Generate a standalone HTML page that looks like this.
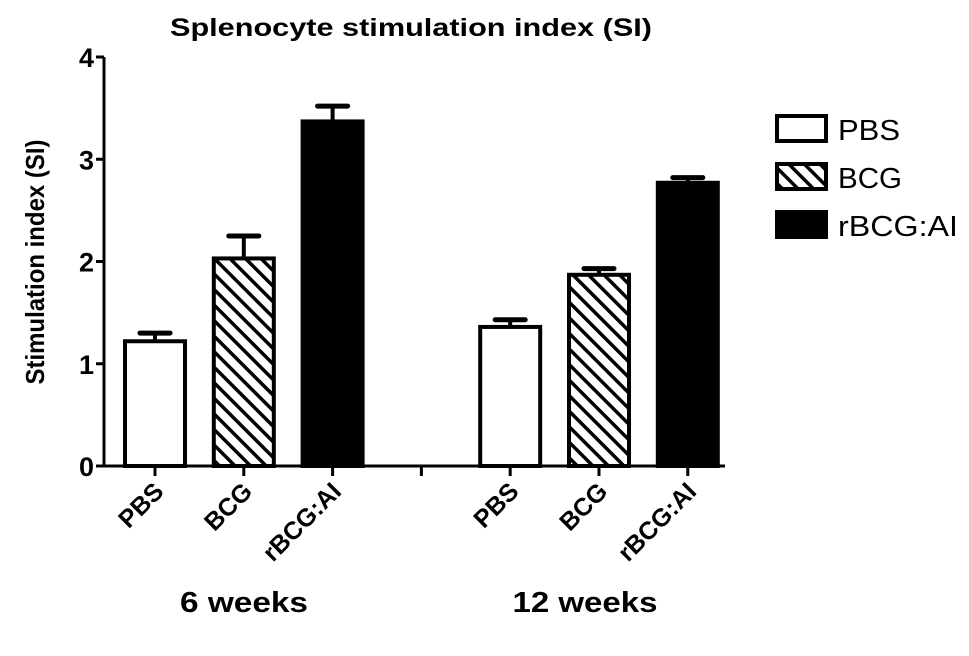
<!DOCTYPE html>
<html><head><meta charset="utf-8"><style>
body{margin:0;background:#fff}
svg text{font-family:"Liberation Sans",sans-serif;fill:#000}
</style></head><body>
<svg width="969" height="651" viewBox="0 0 969 651">
<defs><pattern id="hatch" patternUnits="userSpaceOnUse" width="11" height="11" patternTransform="rotate(-45)"><rect width="11" height="11" fill="#fff"/><rect x="0" y="0" width="3.5" height="11" fill="#000"/></pattern></defs>
<text x="411" y="36" text-anchor="middle" font-size="25" font-weight="bold" textLength="482" lengthAdjust="spacingAndGlyphs">Splenocyte stimulation index (SI)</text>
<text transform="translate(44,262) rotate(-90)" text-anchor="middle" font-size="26" font-weight="bold" textLength="245" lengthAdjust="spacingAndGlyphs">Stimulation index (SI)</text>
<g id="plot"></g>
<text x="244" y="612" text-anchor="middle" font-size="29" font-weight="bold" textLength="128" lengthAdjust="spacingAndGlyphs">6 weeks</text>
<text x="585" y="612" text-anchor="middle" font-size="29" font-weight="bold" textLength="145" lengthAdjust="spacingAndGlyphs">12 weeks</text>
<g>
<rect x="777" y="116" width="49" height="25" fill="#fff" stroke="#000" stroke-width="4"/>
<text x="838" y="140" font-size="29" textLength="62" lengthAdjust="spacingAndGlyphs">PBS</text>
<rect x="777" y="164" width="49" height="25" fill="url(#hatch)" stroke="#000" stroke-width="4"/>
<text x="838" y="188" font-size="29" textLength="64" lengthAdjust="spacingAndGlyphs">BCG</text>
<rect x="777" y="212" width="49" height="25" fill="#000" stroke="#000" stroke-width="4"/>
<text x="838" y="236" font-size="29" textLength="120" lengthAdjust="spacingAndGlyphs">rBCG:AI</text>
</g>
</svg>
<script>
const categories=["PBS","BCG","rBCG:AI","","PBS","BCG","rBCG:AI"];
const means=[1.22,2.03,3.37,null,1.36,1.87,2.77];
const errors=[0.08,0.22,0.15,null,0.07,0.06,0.05];
const fills=["#fff","url(#hatch)","#000",null,"#fff","url(#hatch)","#000"];
const yTicks=[0,1,2,3,4];
const NS="http://www.w3.org/2000/svg";
const g=document.getElementById('plot');
const x0=104,slot0=155,slotW=88.8,bw=60,y0=466,yTop=57,yMax=4;
const y=v=>y0-(y0-yTop)*v/yMax;
const x=i=>slot0+i*slotW;
function mk(t,a){const e=document.createElementNS(NS,t);for(const k in a)e.setAttribute(k,a[k]);g.appendChild(e);return e;}
means.forEach((m,i)=>{
 if(m===null)return;
 const cx=x(i);
 const top=y(m+errors[i]);
 const el=mk('line',{x1:cx,x2:cx,y1:y(m),y2:top,stroke:'#000','stroke-width':4});
 
 
 const cap=mk('line',{x1:cx-15,x2:cx+15,y1:top,y2:top,stroke:'#000','stroke-width':5,'stroke-linecap':'round'});
 
 
 const r=mk('rect',{x:cx-bw/2,y:y(m),width:bw,height:y0-y(m),fill:fills[i],stroke:'#000','stroke-width':4});
 
 
});
const ax=mk('line',{x1:x0,x2:x0,y1:yTop,y2:y0,stroke:'#000','stroke-width':3});


const xa=mk('line',{x1:x0-8,x2:725,y1:y0,y2:y0,stroke:'#000','stroke-width':3});


yTicks.forEach(v=>{
 const t=mk('line',{x1:x0-8,x2:x0,y1:y(v),y2:y(v),stroke:'#000','stroke-width':3});
 
 
 const l=mk('text',{x:x0-10,y:y(v)+10,'text-anchor':'end','font-size':27,'font-weight':'bold'});
 l.textContent=v;
 
 
});
categories.forEach((c,i)=>{
 const cx=x(i);
 const t=mk('line',{x1:cx,x2:cx,y1:y0,y2:y0+10,stroke:'#000','stroke-width':3});
 
 
 if(!c)return;
 const l=mk('text',{transform:`translate(${cx+10},${y0+27}) rotate(-45)`,'text-anchor':'end','font-size':25,'font-weight':'bold'});
 l.textContent=c;
 
 
});
</script>
</body></html>
